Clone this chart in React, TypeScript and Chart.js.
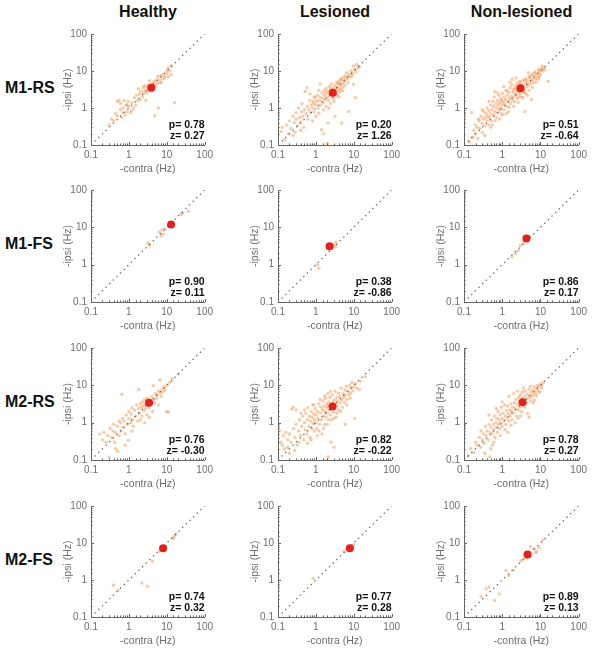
import React, { useEffect, useRef } from 'react';
import { Chart, registerables } from 'chart.js';

Chart.register(...registerables);

type Pt = [number, number];

// ---------- labels ----------
const groups = ['Healthy', 'Lesioned', 'Non-lesioned'];
const cellTypes = ['M1-RS', 'M1-FS', 'M2-RS', 'M2-FS'];
const tickLabels = ['0.1', '1', '10', '100'];
const axisRange = [0.1, 100];
const xTitle = '-contra (Hz)';
const yTitle = '-ipsi (Hz)';

// ---------- data: [contra, ipsi] in Hz ----------
const m1rsHealthy: Pt[] = [
  [0.3,0.35],[0.35,0.5],[0.4,0.45],[0.45,0.7],[0.5,0.6],[0.5,1.5],[0.55,1.6],[0.6,0.9],[0.6,1.3],[0.65,0.55],
  [0.7,1.0],[0.7,0.75],[0.75,1.6],[0.8,0.65],[0.85,1.2],[0.9,0.8],[0.95,1.5],[1.0,1.1],[1.1,0.75],[1.2,1.4],
  [1.3,1.0],[1.4,1.9],[1.5,1.2],[1.6,2.2],[1.7,1.6],[1.8,3.3],[1.9,2.4],[2.0,1.7],[2.1,2.8],[2.3,2.0],
  [2.4,3.6],[2.5,2.5],[2.7,3.0],[2.8,1.6],[3.0,3.8],[3.0,2.6],[3.2,3.2],[3.4,4.2],[3.6,2.9],[3.8,3.6],
  [4.0,4.5],[4.2,3.0],[4.5,5.0],[4.5,4.0],[4.8,0.62],[5.0,5.5],[5.2,3.8],[5.5,4.6],[6.0,6.0],[6.0,1.0],
  [6.5,5.0],[7.0,7.5],[7.0,4.8],[7.5,6.0],[8.0,8.0],[8.5,6.5],[9.0,7.0],[10,10],[10,8.5],[11,12],
  [11,7],[12,10],[13,14],[13,8],[16,1.4],[3.5,5.5],[2.6,4.0],[1.2,0.85],[0.9,1.2],[5.8,7.2],
];
const m1rsLesioned: Pt[] = [
  [0.12,0.23],[0.13,0.3],[0.15,0.14],[0.17,0.35],[0.19,0.2],[0.2,0.45],[0.22,0.28],[0.25,0.6],[0.27,0.4],[0.28,0.22],
  [0.3,0.5],[0.3,0.75],[0.33,0.33],[0.35,1.0],[0.37,0.55],[0.4,0.42],[0.42,0.8],[0.43,1.3],[0.45,0.6],[0.48,0.3],
  [0.5,0.9],[0.52,2.8],[0.55,0.7],[0.58,3.5],[0.6,1.1],[0.62,0.5],[0.65,0.9],[0.68,1.6],[0.7,2.4],[0.72,0.75],
  [0.75,1.2],[0.8,1.0],[0.82,0.45],[0.85,1.5],[0.88,1.3],[0.9,0.8],[0.95,1.9],[1.0,1.2],[1.0,0.6],[1.05,1.5],
  [1.1,2.2],[1.15,1.0],[1.2,0.72],[1.25,1.6],[1.3,2.0],[1.35,1.2],[1.4,0.26],[1.45,2.6],[1.5,1.8],[1.55,1.4],
  [1.6,0.2],[1.65,2.2],[1.7,3.0],[1.75,1.7],[1.8,2.5],[1.85,1.1],[1.9,3.4],[2.0,0.11],[2.0,2.0],[2.05,2.8],
  [2.1,0.39],[2.15,1.6],[2.2,2.4],[2.3,3.8],[2.35,2.1],[2.4,1.3],[2.5,3.0],[2.55,2.6],[2.6,4.5],[2.7,2.2],
  [2.8,3.4],[2.9,1.8],[3.0,2.8],[3.1,4.0],[3.2,0.59],[3.3,3.2],[3.4,2.4],[3.5,5.0],[3.6,3.6],[3.7,2.9],
  [3.8,4.4],[3.9,4.8],[4.0,3.4],[4.1,2.0],[4.2,5.5],[4.4,4.0],[4.5,3.1],[4.6,6.2],[4.8,0.39],[4.8,5.9],
  [5.0,4.6],[5.2,3.6],[5.4,6.8],[5.6,5.2],[5.8,4.2],[6.0,7.4],[6.2,5.8],[6.5,9.0],[6.8,6.5],[7.0,4.8],
  [7.3,0.8],[7.5,8.0],[8.0,7.0],[8.5,10],[8.9,7.4],[9.4,8.6],[9.8,4.3],[9.8,13.6],[10.5,11],[11,1.9],
  [11.5,9.5],[12,15],[13,12],[14,13],[1.2,3.0],[0.9,2.0],[2.2,1.0],[3.0,1.5],[1.6,0.9],[2.8,2.0],
  [2.4,3.2],[3.6,2.2],[4.3,2.7],[5.2,2.9],[1.3,4.5],[0.4,0.25],[0.25,0.18],
];
const m1rsNonLesioned: Pt[] = [
  [0.14,0.12],[0.16,0.75],[0.17,0.16],[0.18,0.25],[0.2,0.2],[0.2,0.35],[0.22,0.3],[0.23,0.15],[0.25,0.45],[0.26,0.28],
  [0.28,0.6],[0.3,0.38],[0.3,0.22],[0.32,0.5],[0.33,0.8],[0.35,0.33],[0.36,0.55],[0.38,0.7],[0.4,0.45],[0.4,1.0],
  [0.42,0.6],[0.44,0.35],[0.45,0.85],[0.47,0.55],[0.5,0.7],[0.5,1.2],[0.52,0.45],[0.55,0.9],[0.57,1.5],[0.6,0.65],
  [0.6,1.1],[0.62,2.0],[0.64,2.8],[0.65,0.8],[0.68,1.3],[0.7,0.55],[0.72,1.0],[0.75,1.6],[0.78,0.75],[0.8,1.2],
  [0.82,2.2],[0.85,0.9],[0.88,1.4],[0.9,1.0],[0.92,1.8],[0.95,0.7],[1.0,1.2],[1.0,2.5],[1.05,1.5],[1.1,0.9],
  [1.12,2.0],[1.15,1.3],[1.2,1.7],[1.25,3.0],[1.3,1.1],[1.35,2.2],[1.4,1.5],[1.45,0.8],[1.5,2.6],[1.55,1.8],
  [1.6,3.5],[1.65,1.3],[1.7,2.1],[1.75,4.2],[1.8,5.9],[1.8,1.6],[1.9,2.8],[1.95,2.0],[2.0,3.2],[2.1,1.5],
  [2.15,2.5],[2.2,4.0],[2.3,2.2],[2.4,3.0],[2.5,1.8],[2.5,4.6],[2.6,2.7],[2.7,3.6],[2.8,5.2],[2.9,2.4],
  [3.0,3.0],[3.1,4.2],[3.2,2.0],[3.3,3.5],[3.4,5.5],[3.5,2.8],[3.6,4.0],[3.8,3.2],[3.9,0.81],[4.0,4.8],
  [4.1,2.5],[4.2,6.0],[4.4,3.8],[4.6,5.2],[4.8,9.0],[4.8,4.2],[5.0,3.0],[5.2,6.4],[5.4,4.6],[5.6,7.2],
  [5.8,1.7],[5.8,5.4],[6.0,8.0],[6.3,6.0],[6.6,4.8],[7.0,7.5],[7.2,9.5],[7.5,6.2],[8.0,8.4],[8.4,7.0],
  [8.9,11],[9.2,9.0],[9.6,10],[10,8.0],[10.5,11.5],[11,13.7],[11.5,10],[12,12],[16,5.3],[13,11],
  [0.3,0.9],[0.45,1.5],[0.24,0.5],[0.55,0.35],[0.85,0.5],[1.3,0.7],[2.0,1.1],[2.6,1.4],[3.5,1.9],[1.1,3.8],
  [1.6,5.0],[2.3,6.5],[0.35,0.18],[0.75,2.6],[1.05,0.65],[1.5,1.05],[2.7,2.0],[3.7,2.6],[4.5,2.2],[6.2,3.6],
  [7.8,5.0],[8.8,6.0],[9.5,7.0],[0.5,0.3],[0.65,0.45],[0.95,1.6],[1.4,2.9],[2.2,3.4],[3.0,4.9],[3.9,5.9],
  [5.0,7.0],[6.8,8.8],
];
const m1fsHealthy: Pt[] = [
  [3.2,3.8],[3.5,3.3],[6.3,7.5],[7.5,8.5],[8.0,6.5],[7.0,6.0],[9,9],[24,22],[26,24],[37,27],
];
const m1fsLesioned: Pt[] = [
  [1.1,1.0],[1.2,0.8],[2.0,2.8],[2.6,3.5],[3.0,3.4],[3.3,3.0],[2.2,2.5],[3.4,4.0],
];
const m1fsNonLesioned: Pt[] = [
  [1.8,1.6],[2.2,2.0],[2.6,2.4],[3.0,3.3],[3.6,3.8],[4.5,4.8],[5.2,5.8],
];
const m2rsHealthy: Pt[] = [
  [0.17,0.5],[0.2,0.35],[0.22,0.55],[0.25,0.3],[0.28,0.45],[0.3,0.12],[0.32,0.7],[0.35,0.4],[0.38,0.6],[0.4,0.9],
  [0.42,0.3],[0.45,0.55],[0.5,0.17],[0.5,0.8],[0.55,0.45],[0.6,1.0],[0.62,0.6],[0.65,5.7],[0.68,1.3],[0.7,0.75],
  [0.75,1.1],[0.8,0.5],[0.85,1.6],[0.9,0.9],[0.97,0.34],[1.0,1.3],[1.0,2.0],[1.1,1.0],[1.15,1.7],[1.2,2.5],
  [1.25,1.2],[1.3,0.8],[1.4,2.2],[1.5,1.5],[1.6,3.0],[1.7,1.1],[1.8,7.7],[1.8,2.4],[1.9,1.8],[2.0,3.2],
  [2.1,2.6],[2.2,1.5],[2.3,3.6],[2.4,2.8],[2.5,2.1],[2.6,4.2],[2.7,3.1],[2.8,2.4],[2.9,3.8],[3.0,1.6],
  [3.1,4.6],[3.2,3.0],[3.4,2.5],[3.6,4.0],[3.8,3.2],[4.0,5.0],[4.2,2.0],[4.4,9.8],[4.5,4.2],[4.8,3.4],
  [5.0,6.0],[5.3,4.5],[5.6,5.5],[6.0,7.0],[6.0,3.0],[6.6,14],[6.8,6.2],[7.2,5.0],[7.5,8.0],[8.0,6.8],
  [8.5,9.0],[9.0,7.5],[10,10],[10,2.0],[11,1.9],[12,12],[14,15],[20,20],[1.2,0.6],[0.8,0.25],
  [2.0,1.2],[2.6,1.0],[3.5,1.4],[0.55,1.1],[0.45,0.2],
];
const m2rsLesioned: Pt[] = [
  [0.11,0.6],[0.12,0.3],[0.13,0.25],[0.14,0.45],[0.15,0.2],[0.16,0.55],[0.18,0.35],[0.2,0.5],[0.2,0.15],[0.22,0.3],
  [0.23,2.3],[0.25,2.6],[0.26,0.7],[0.28,0.4],[0.3,2.2],[0.3,0.9],[0.32,0.25],[0.35,0.6],[0.37,1.2],[0.4,0.45],
  [0.42,0.8],[0.45,1.5],[0.48,0.35],[0.5,1.0],[0.52,0.65],[0.55,1.8],[0.58,0.5],[0.6,1.2],[0.62,2.5],[0.65,0.8],
  [0.68,1.5],[0.7,0.4],[0.72,1.1],[0.75,2.0],[0.78,0.7],[0.8,1.4],[0.82,3.0],[0.85,0.95],[0.88,1.7],[0.9,0.6],
  [0.92,1.2],[0.95,2.4],[1.0,1.0],[1.0,1.6],[1.05,0.7],[1.1,2.0],[1.15,1.3],[1.2,3.2],[1.25,0.9],[1.3,1.8],
  [1.35,2.6],[1.4,1.2],[1.45,0.5],[1.5,2.2],[1.55,3.8],[1.6,1.5],[1.65,2.8],[1.7,0.9],[1.75,2.0],[1.8,4.5],
  [1.85,1.4],[1.9,2.5],[1.95,3.2],[2.0,1.8],[2.05,6.0],[2.1,0.12],[2.1,2.8],[2.15,1.2],[2.2,3.6],[2.3,2.2],
  [2.35,4.8],[2.4,1.6],[2.5,3.0],[2.5,0.3],[2.6,2.4],[2.7,5.5],[2.8,3.4],[2.9,1.9],[3.0,0.22],[3.0,4.0],
  [3.1,2.6],[3.2,7.0],[3.3,3.2],[3.4,1.4],[3.5,4.6],[3.6,2.8],[3.8,3.8],[3.9,6.2],[4.0,2.2],[4.2,5.0],
  [4.4,3.4],[4.6,8.5],[4.8,4.2],[5.0,2.6],[5.2,6.0],[5.4,4.8],[5.6,3.5],[5.8,7.5],[6.0,0.9],[6.0,5.5],
  [6.4,9.5],[6.6,4.2],[7.0,7.0],[7.4,5.5],[7.8,10],[8.2,6.2],[8.6,8.4],[9.0,12],[9.5,7.0],[10,9.0],
  [10.5,1.3],[11,11],[12,8.5],[14,7.8],[15,13],[20,17],[0.18,0.22],[0.35,0.3],[0.6,0.28],[1.1,0.45],
  [1.6,0.7],[2.6,1.2],[3.6,1.8],[4.5,2.0],[0.4,1.8],[0.5,2.2],[0.9,3.0],[1.3,4.2],[1.7,5.2],[2.4,6.8],
  [0.28,0.18],[0.75,0.35],[1.2,0.6],[2.0,0.9],[3.0,1.3],[6.5,3.0],[8.0,4.5],
];
const m2rsNonLesioned: Pt[] = [
  [0.13,0.13],[0.15,0.2],[0.18,0.16],[0.2,0.3],[0.22,0.25],[0.25,0.4],[0.27,0.22],[0.28,0.6],[0.3,0.35],[0.32,0.5],
  [0.34,0.28],[0.36,0.8],[0.38,0.45],[0.4,0.6],[0.42,0.35],[0.45,0.9],[0.47,0.12],[0.48,0.55],[0.5,0.2],[0.5,0.75],
  [0.52,1.2],[0.55,0.5],[0.58,0.9],[0.6,0.65],[0.62,1.5],[0.65,0.4],[0.68,1.0],[0.7,0.75],[0.72,1.3],[0.75,0.55],
  [0.78,2.0],[0.8,0.9],[0.82,1.2],[0.85,0.7],[0.88,1.6],[0.9,1.0],[0.95,2.6],[1.0,1.3],[1.0,0.8],[1.05,1.8],
  [1.1,1.1],[1.15,3.0],[1.2,1.5],[1.25,0.9],[1.3,2.1],[1.35,1.3],[1.4,2.8],[1.45,1.7],[1.5,5.0],[1.5,1.1],
  [1.6,2.2],[1.65,1.5],[1.7,3.2],[1.75,2.0],[1.8,1.2],[1.9,2.6],[2.0,6.0],[2.0,1.8],[2.1,3.4],[2.2,2.4],
  [2.3,4.2],[2.4,1.5],[2.5,3.0],[2.6,2.2],[2.7,4.8],[2.8,3.6],[2.9,2.6],[3.0,5.5],[3.1,3.2],[3.2,2.0],
  [3.3,4.4],[3.4,6.5],[3.5,3.0],[3.6,3.8],[3.8,5.0],[3.9,2.6],[4.0,7.0],[4.1,4.2],[4.3,3.4],[4.5,5.8],
  [4.6,1.8],[4.8,4.6],[5.0,8.0],[5.0,1.4],[5.2,5.2],[5.5,3.8],[5.7,6.5],[6.0,4.8],[6.2,7.5],[6.5,5.6],
  [6.8,9.0],[7.0,4.0],[7.3,7.0],[7.6,6.0],[8.0,8.5],[8.4,10],[8.8,7.2],[9.2,9.5],[9.6,6.5],[10,11],
  [10.5,8.5],[11,10],[12,12],[0.6,0.3],[0.9,0.45],[1.2,0.65],[1.7,0.85],[2.2,1.0],[3.0,1.5],[0.45,1.6],
  [0.7,2.4],[1.0,3.6],[0.35,0.15],[0.55,0.25],[2.5,7.0],[3.6,8.5],[5.5,9.5],[1.4,0.55],[6.4,3.4],[7.8,5.2],
  [2.6,1.3],
];
const m2fsHealthy: Pt[] = [
  [0.39,0.72],[0.52,0.53],[2.2,0.83],[3.1,0.68],[4.2,3.2],[6.5,6.0],[7.0,6.5],[14.8,13.5],[15.5,15],[17.4,17.5],
];
const m2fsLesioned: Pt[] = [
  [0.85,1.1],[5.5,6.0],[6.5,6.8],[9.0,8.5],[10,9],[8.5,7.0],[7.0,8.2],
];
const m2fsNonLesioned: Pt[] = [
  [0.28,0.36],[0.38,0.58],[0.46,0.65],[0.63,0.28],[0.84,0.42],[1.26,1.8],[1.5,1.3],[2.0,1.85],[3.1,3.3],[3.7,3.8],
  [5.5,8],[6.8,7.0],[7.5,5.5],[9.2,7.5],[11.5,12],[8.0,6.0],[4.3,4.0],
];

// population means (red dots) per row: [Healthy, Lesioned, Non-lesioned]
const m1rsMeans: Pt[] = [[3.9, 3.5], [2.8, 2.6], [3.0, 3.4]];
const m1fsMeans: Pt[] = [[13, 12], [2.3, 3.1], [4.3, 5.0]];
const m2rsMeans: Pt[] = [[3.4, 3.4], [2.75, 2.7], [3.4, 3.5]];
const m2fsMeans: Pt[] = [[8.0, 7.2], [7.9, 7.2], [4.6, 4.9]];

// statistics text
const pValues = [
  ['0.78', '0.20', '0.51'],
  ['0.90', '0.38', '0.86'],
  ['0.76', '0.82', '0.78'],
  ['0.74', '0.77', '0.89'],
];
const zValues = [
  ['0.27', '1.26', '-0.64'],
  ['0.11', '-0.86', '0.17'],
  ['-0.30', '-0.22', '0.27'],
  ['0.32', '0.28', '0.13'],
];

const panelPoints: Pt[][][] = [
  [m1rsHealthy, m1rsLesioned, m1rsNonLesioned],
  [m1fsHealthy, m1fsLesioned, m1fsNonLesioned],
  [m2rsHealthy, m2rsLesioned, m2rsNonLesioned],
  [m2fsHealthy, m2fsLesioned, m2fsNonLesioned],
];
const panelMeans: Pt[][] = [m1rsMeans, m1fsMeans, m2rsMeans, m2fsMeans];

// ---------- layout / style ----------
const colLeft = [91, 278, 464];
const colWidth = [114, 114, 115];
const rowTop = [32, 188, 346, 504];
const rowHeight = [113, 114, 114, 113];
const YW = 29; // y-scale width
const XH = 30; // x-scale height
const PT = 8;
const PR = 12;

const FONT = "'Liberation Sans', Arial, Helvetica, sans-serif";
const axisColor = '#666666';
const labelColor = '#6e6e6e';
const pointColor = 'rgba(243, 150, 80, 0.5)';
const meanColor = '#e3201c';
const diagColor = '#555555';

const isDecade = (v: number) => Math.abs(Math.log10(v) - Math.round(Math.log10(v))) < 1e-6;
const fmtTick = (v: any) => {
  const n = Number(v);
  if (!isDecade(n)) return '';
  const k = Math.round(Math.log10(n)) + 1;
  return tickLabels[k] ?? '';
};

const panelPlugin = {
  id: 'panelDecor',
  afterDraw(chart: any) {
    const { ctx, chartArea, scales } = chart;
    const opts = chart.options.plugins.panelDecor || {};
    ctx.save();
    ctx.strokeStyle = axisColor;
    ctx.lineWidth = 1;
    const xs = scales.x;
    const ys = scales.y;
    xs.ticks.forEach((t: any) => {
      const px = Math.round(xs.getPixelForValue(t.value)) + 0.5;
      const len = isDecade(t.value) ? 3 : 1.6;
      ctx.beginPath();
      ctx.moveTo(px, chartArea.bottom);
      ctx.lineTo(px, chartArea.bottom - len);
      ctx.stroke();
    });
    ys.ticks.forEach((t: any) => {
      const py = Math.round(ys.getPixelForValue(t.value)) + 0.5;
      const len = isDecade(t.value) ? 3 : 1.6;
      ctx.beginPath();
      ctx.moveTo(chartArea.left, py);
      ctx.lineTo(chartArea.left + len, py);
      ctx.stroke();
    });
    ctx.fillStyle = '#111';
    ctx.font = `bold 10.5px ${FONT}`;
    ctx.textAlign = 'right';
    ctx.textBaseline = 'middle';
    ctx.fillText(`p= ${opts.p}`, chartArea.right, chartArea.bottom - 20);
    ctx.fillText(`z= ${opts.z}`, chartArea.right, chartArea.bottom - 9);
    ctx.restore();
  },
};

function Panel(props: { pts: Pt[]; mean: Pt; p: string; z: string; left: number; top: number; w: number; h: number }) {
  const ref = useRef<HTMLCanvasElement | null>(null);
  const { pts, mean, p, z, left, top, w, h } = props;
  const cw = YW + w + PR;
  const ch = PT + h + XH;
  useEffect(() => {
    if (!ref.current) return;
    const scaleCommon = (title: string, isX: boolean) => ({
      type: 'logarithmic',
      min: axisRange[0],
      max: axisRange[1],
      position: isX ? 'bottom' : 'left',
      afterFit: (s: any) => {
        if (isX) s.height = XH;
        else s.width = YW;
      },
      grid: { display: false, drawTicks: false },
      border: { display: true, color: axisColor, width: 1 },
      ticks: {
        autoSkip: false,
        maxRotation: 0,
        minRotation: 0,
        padding: 4,
        color: labelColor,
        font: { family: FONT, size: 10 },
        callback: fmtTick,
      },
      title: {
        display: true,
        text: title,
        color: labelColor,
        font: { family: FONT, size: 10.5 },
        padding: 0,
      },
    });
    const chart = new Chart(ref.current, {
      type: 'scatter',
      data: {
        datasets: [
          {
            data: [{ x: mean[0], y: mean[1] }],
            pointRadius: 4,
            backgroundColor: meanColor,
            borderWidth: 0,
            order: 0,
          },
          {
            data: [{ x: axisRange[0], y: axisRange[0] }, { x: axisRange[1], y: axisRange[1] }],
            showLine: true,
            borderColor: diagColor,
            borderWidth: 1.2,
            borderDash: [1.3, 3.8],
            pointRadius: 0,
            order: 1,
          },
          {
            data: pts.map(([x, y]) => ({ x, y })),
            pointRadius: 1.7,
            backgroundColor: pointColor,
            borderWidth: 0,
            order: 2,
          },
        ],
      },
      options: {
        responsive: false,
        animation: false,
        events: [],
        layout: { padding: { left: 0, top: PT, right: PR, bottom: 0 } },
        plugins: {
          legend: { display: false },
          tooltip: { enabled: false },
          panelDecor: { p, z },
        } as any,
        scales: {
          x: scaleCommon(xTitle, true) as any,
          y: scaleCommon(yTitle, false) as any,
        },
      },
      plugins: [panelPlugin],
    } as any);
    return () => chart.destroy();
  }, []);
  return (
    <canvas
      ref={ref}
      width={cw}
      height={ch}
      style={{ position: 'absolute', left: left - YW, top: top - PT, width: cw, height: ch }}
    />
  );
}

export default function App() {
  return (
    <div style={{ position: 'absolute', left: 0, top: 0, width: 594, height: 657, background: '#fff', fontFamily: FONT }}>
      {groups.map((g, c) => (
        <div
          key={g}
          style={{
            position: 'absolute',
            left: colLeft[c] + colWidth[c] / 2 - 80,
            width: 160,
            top: 3,
            textAlign: 'center',
            fontWeight: 'bold',
            fontSize: 16,
            lineHeight: '18px',
            color: '#111',
          }}
        >
          {g}
        </div>
      ))}
      {cellTypes.map((t, r) => (
        <div
          key={t}
          style={{
            position: 'absolute',
            left: 5,
            top: rowTop[r] + rowHeight[r] / 2 - 10,
            fontWeight: 'bold',
            fontSize: 16,
            lineHeight: '18px',
            color: '#111',
          }}
        >
          {t}
        </div>
      ))}
      {cellTypes.map((t, r) =>
        groups.map((g, c) => (
          <Panel
            key={`${t}-${g}`}
            pts={panelPoints[r][c]}
            mean={panelMeans[r][c]}
            p={pValues[r][c]}
            z={zValues[r][c]}
            left={colLeft[c]}
            top={rowTop[r]}
            w={colWidth[c]}
            h={rowHeight[r]}
          />
        ))
      )}
    </div>
  );
}
